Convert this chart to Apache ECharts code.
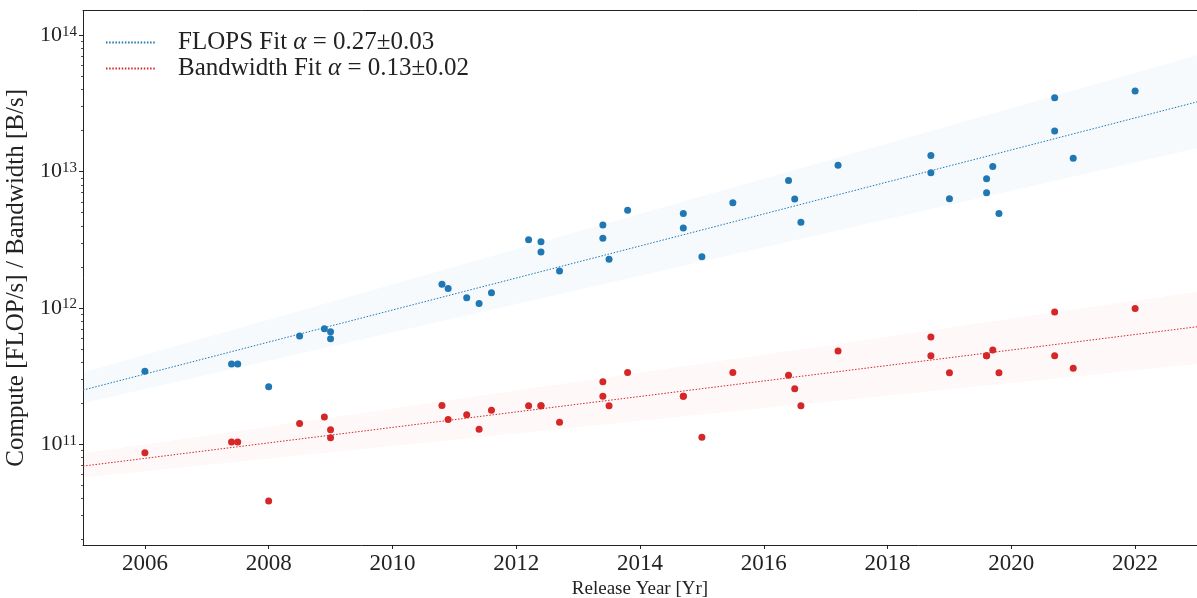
<!DOCTYPE html>
<html>
<head>
<meta charset="utf-8">
<script src="https://cdn.jsdelivr.net/npm/echarts@6/dist/echarts.min.js"></script>
<style>
  html, body { margin: 0; padding: 0; background: #fff; }
  #chart { width: 1197px; height: 598px; }
</style>
</head>
<body>
<div id="chart"></div>
<script>
// GPU release dates (fractional year)
const releaseYears = [
  2006.0, 2007.4, 2007.5, 2008.0, 2008.5, 2008.9, 2009.0, 2009.0,
  2010.8, 2010.9, 2011.2, 2011.4, 2011.6,
  2012.2, 2012.4, 2012.4, 2012.7,
  2013.4, 2013.4, 2013.5, 2013.8,
  2014.7, 2014.7, 2015.0, 2015.5,
  2016.4, 2016.5, 2016.6, 2017.2,
  2018.7, 2018.7, 2019.0, 2019.6, 2019.6, 2019.7, 2019.8,
  2020.7, 2020.7, 2021.0, 2022.0
];
// peak compute, TFLOP/s
const flopsTera = [
  0.344, 0.388, 0.388, 0.264, 0.622, 0.703, 0.669, 0.594,
  1.49, 1.39, 1.19, 1.08, 1.29,
  3.16, 3.06, 2.57, 1.87,
  4.05, 3.25, 2.28, 5.21,
  4.93, 3.85, 2.37, 5.90,
  8.60, 6.28, 4.24, 11.1,
  13.1, 9.80, 6.31, 8.85, 6.99, 10.9, 4.93,
  34.7, 19.8, 12.5, 38.9
];
// memory bandwidth, GB/s
const bandwidthGiga = [
  86.8, 104, 104, 38.4, 142, 159, 128, 112,
  193, 152, 165, 129, 178,
  192, 192, 192, 145,
  288, 225, 192, 337,
  225, 225, 113, 337,
  321, 256, 192, 483,
  612, 446, 335, 446, 446, 491, 335,
  933, 446, 361, 993
];

// exponential fits and their confidence bands, evaluated at the axis ends
const fitYears = [2005, 2023];
const flopsFit = [2.50e11, 3.24e13];
const flopsFitLow = [2.00e11, 1.48e13];
const flopsFitHigh = [3.36e11, 7.13e13];
const bandwidthFit = [6.93e10, 7.28e11];
const bandwidthFitLow = [5.73e10, 3.88e11];
const bandwidthFitHigh = [8.59e10, 1.315e12];

const legendLabels = {
  'FLOPS': 'FLOPS Fit {i|α} = 0.27±0.03',
  'Bandwidth': 'Bandwidth Fit {i|α} = 0.13±0.02'
};

const xTickYears = [2006, 2008, 2010, 2012, 2014, 2016, 2018, 2020, 2022];
const yDecades = [11, 12, 13, 14];

const FONT = '"Liberation Serif", "Times New Roman", serif';
const INK = '#222';
const BLUE = '#1f77b4';
const RED = '#d62728';
const Y_MIN = 1.83e10;
const Y_MAX = 1.51e14;

// minor tick positions (2..9 x 10^n) in log10 units
const minorLogTicks = [];
for (let e = 10; e <= 14; e++) {
  for (let k = 2; k <= 9; k++) {
    const v = Math.log10(k) + e;
    if (v > Math.log10(Y_MIN) && v < Math.log10(Y_MAX)) minorLogTicks.push(v);
  }
}

function points(values, scale) {
  return releaseYears.map((y, i) => [y, values[i] * scale]);
}

function fitLine(name, values, color) {
  return {
    name: name,
    type: 'line',
    data: fitYears.map((y, i) => [y, values[i]]),
    symbol: 'none',
    showSymbol: false,
    z: 3,
    lineStyle: { color: color, width: 1, type: [1.5, 1.65] },
    itemStyle: { color: color },
    silent: true
  };
}

function fitBand(low, high, color) {
  return {
    type: 'custom',
    data: fitYears.map((y, i) => [y, low[i], high[i]]),
    encode: { x: 0, y: [1, 2] },
    clip: true,
    z: 1,
    silent: true,
    renderItem: function (params, api) {
      if (params.dataIndex !== 0) return;
      const pts = [
        api.coord([fitYears[0], high[0]]),
        api.coord([fitYears[1], high[1]]),
        api.coord([fitYears[1], low[1]]),
        api.coord([fitYears[0], low[0]])
      ];
      return {
        type: 'polygon',
        shape: { points: pts },
        style: { fill: color, stroke: null }
      };
    }
  };
}

function scatter(values, scale, color) {
  return {
    type: 'scatter',
    data: points(values, scale),
    symbol: 'circle',
    symbolSize: 7,
    z: 4,
    itemStyle: { color: color, opacity: 1 }
  };
}

const chart = echarts.init(document.getElementById('chart'), null, { renderer: 'canvas' });

chart.setOption({
  animation: false,
  backgroundColor: '#fff',
  grid: { left: 83, right: 0, top: 10.7, bottom: 53, containLabel: false, outerBoundsMode: 'none' },
  legend: {
    data: ['FLOPS', 'Bandwidth'],
    orient: 'vertical',
    left: 105,
    top: 30,
    padding: 0,
    itemWidth: 50,
    itemHeight: 12,
    itemGap: 1,
    itemStyle: { opacity: 0 },
    formatter: name => legendLabels[name],
    textStyle: {
      fontFamily: FONT,
      fontSize: 25,
      color: INK,
      lineHeight: 25,
      padding: [0, 0, 0, 17],
      rich: {
        i: { fontFamily: FONT, fontSize: 25, fontStyle: 'italic', color: INK }
      }
    }
  },
  xAxis: [
    {
      type: 'value',
      min: 2005,
      max: 2023,
      name: 'Release Year [Yr]',
      nameLocation: 'middle',
      nameGap: 32,
      nameTextStyle: { fontFamily: FONT, fontSize: 19, color: INK },
      axisLine: { show: true, lineStyle: { color: INK, width: 1 } },
      axisTick: { show: true, length: 4, customValues: xTickYears, lineStyle: { color: INK, width: 1 } },
      axisLabel: {
        customValues: xTickYears,
        margin: 7,
        fontFamily: FONT,
        fontSize: 23,
        color: INK,
        formatter: v => String(v)
      },
      splitLine: { show: false }
    },
    {
      // top frame line
      type: 'value',
      position: 'top',
      min: 2005,
      max: 2023,
      axisLine: { show: true, onZero: false, lineStyle: { color: INK, width: 1 } },
      axisTick: { show: false },
      axisLabel: { show: false },
      splitLine: { show: false }
    }
  ],
  yAxis: [
    {
      type: 'log',
      logBase: 10,
      min: Y_MIN,
      max: Y_MAX,
      name: 'Compute [FLOP/s] / Bandwidth [B/s]',
      nameLocation: 'middle',
      nameGap: 45,
      nameTextStyle: { fontFamily: FONT, fontSize: 25, color: INK },
      axisLine: { show: true, lineStyle: { color: INK, width: 1 } },
      axisTick: { show: false },
      axisLabel: {
        margin: 6,
        formatter: function (v) {
          const lv = Math.log10(v);
          const e = Math.round(lv);
          if (Math.abs(lv - e) > 1e-6) return '';
          return '{b|10}{s|' + e + '}';
        },
        rich: {
          b: { fontFamily: FONT, fontSize: 22, color: INK, lineHeight: 22, padding: [4, 0, 0, 0], verticalAlign: 'bottom' },
          s: { fontFamily: FONT, fontSize: 15, color: INK, lineHeight: 15, verticalAlign: 'top' }
        }
      },
      splitLine: { show: false }
    },
    {
      // decade tick marks
      type: 'value',
      position: 'left',
      min: Math.log10(Y_MIN),
      max: Math.log10(Y_MAX),
      axisLine: { show: false },
      axisTick: { show: true, length: 4, customValues: yDecades, lineStyle: { color: INK, width: 1 } },
      axisLabel: { show: false },
      splitLine: { show: false }
    },
    {
      // minor tick marks
      type: 'value',
      position: 'left',
      min: Math.log10(Y_MIN),
      max: Math.log10(Y_MAX),
      axisLine: { show: false },
      axisTick: { show: true, length: 2, customValues: minorLogTicks, lineStyle: { color: INK, width: 0.8 } },
      axisLabel: { show: false },
      splitLine: { show: false }
    }
  ],
  series: [
    fitBand(flopsFitLow, flopsFitHigh, 'rgba(31,119,180,0.04)'),
    fitBand(bandwidthFitLow, bandwidthFitHigh, 'rgba(214,39,40,0.03)'),
    fitLine('FLOPS', flopsFit, BLUE),
    fitLine('Bandwidth', bandwidthFit, RED),
    scatter(flopsTera, 1e12, BLUE),
    scatter(bandwidthGiga, 1e9, RED)
  ]
});
</script>
</body>
</html>
